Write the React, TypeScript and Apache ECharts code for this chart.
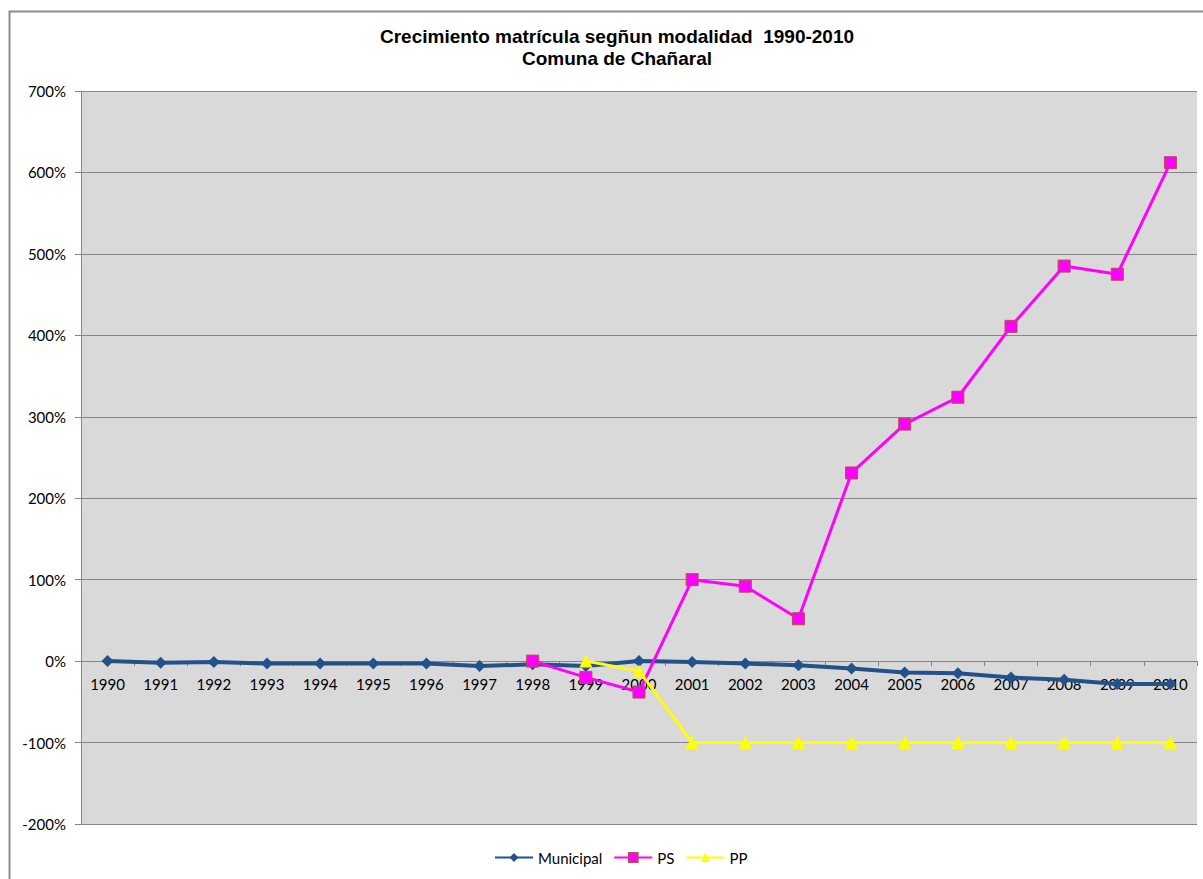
import React, { useEffect, useRef } from "react";
import * as echarts from "echarts";

const years = ["1990","1991","1992","1993","1994","1995","1996","1997","1998","1999","2000","2001","2002","2003","2004","2005","2006","2007","2008","2009","2010"];
const municipal = [0, -2, -1, -3, -3, -3, -3, -6, -4, -6, 0, -1, -3, -5, -9, -14, -15, -20, -23, -28, -28];
const ps = [null, null, null, null, null, null, null, null, 0, -20, -38, 100, 92, 52, 231, 291, 324, 411, 485, 475, 612];
const pp = [null, null, null, null, null, null, null, null, null, 0, -12, -100, -100, -100, -100, -100, -100, -100, -100, -100, -100];
const titleLines = ["Crecimiento matrícula segñun modalidad  1990-2010", "Comuna de Chañaral"];
const yMin = -200;
const yMax = 700;
const yStep = 100;

const labelFont = "Lato, 'Open Sans', sans-serif";

export default function App() {
  const ref = useRef<HTMLDivElement>(null);
  useEffect(() => {
    if (!ref.current) return;
    const chart = echarts.init(ref.current, null, { renderer: "svg" });
    const gridTop = 91;
    const gridBottom = 55;
    const plotH = 879 - gridTop - gridBottom;
    const zeroOffset = -(plotH * (0 - yMin)) / (yMax - yMin);
    chart.setOption({
      animation: false,
      backgroundColor: "#ffffff",
      title: {
        text: titleLines.join("\n"),
        left: 612,
        textAlign: "center",
        top: 20,
        textStyle: {
          fontFamily: "'Liberation Sans', Arial, sans-serif",
          fontWeight: "bold",
          fontSize: 19,
          lineHeight: 22,
          color: "#000",
        },
      },
      graphic: [
        {
          type: "rect",
          shape: { x: 9.5, y: 11.5, width: 1400, height: 1000 },
          style: { fill: "none", stroke: "#8c8c8c", lineWidth: 2 },
          silent: true,
        },
      ],
      legend: {
        bottom: 9,
        left: 489,
        itemWidth: 38,
        itemHeight: 11,
        itemGap: 11,
        textStyle: { fontFamily: labelFont, fontSize: 15, color: "#000" },
        data: ["Municipal", "PS", "PP"],
      },
      grid: {
        left: 81,
        right: 6,
        top: gridTop,
        bottom: gridBottom,
        show: true,
        backgroundColor: "#d9d9d9",
        borderWidth: 0,
      },
      xAxis: {
        type: "category",
        data: years,
        boundaryGap: true,
        position: "bottom",
        offset: zeroOffset,
        axisLine: { onZero: false, lineStyle: { color: "#868686", width: 1 } },
        axisTick: { show: true, length: 5, lineStyle: { color: "#868686" } },
        axisLabel: { fontFamily: labelFont, fontSize: 15, color: "#000", margin: 15, interval: 0 },
      },
      yAxis: {
        type: "value",
        min: yMin,
        max: yMax,
        interval: yStep,
        axisLine: { show: true, lineStyle: { color: "#868686" } },
        axisTick: { show: true, length: 6, lineStyle: { color: "#868686" } },
        axisLabel: {
          fontFamily: labelFont,
          fontSize: 15,
          color: "#000",
          margin: 15,
          formatter: (v: number) => v + "%",
        },
        splitLine: { show: true, lineStyle: { color: "#868686", width: 1 } },
      },
      series: [
        {
          name: "Municipal",
          type: "line",
          data: municipal,
          symbol: "diamond",
          symbolSize: 12,
          lineStyle: { color: "#23518a", width: 4 },
          itemStyle: { color: "#23518a" },
          z: 2,
        },
        {
          name: "PS",
          type: "line",
          data: ps,
          symbol: "rect",
          symbolSize: 12,
          lineStyle: { color: "#ff00ff", width: 3 },
          itemStyle: { color: "#ff00ff", borderColor: "#b05050", borderWidth: 1 },
          z: 3,
        },
        {
          name: "PP",
          type: "line",
          data: pp,
          symbol: "triangle",
          symbolSize: 13,
          lineStyle: { color: "#ffff00", width: 3 },
          itemStyle: { color: "#ffff00" },
          z: 4,
        },
      ],
    });
    return () => chart.dispose();
  }, []);
  return (
    <div
      ref={ref}
      style={{ position: "fixed", left: 0, top: 0, width: 1203, height: 879 }}
    />
  );
}
